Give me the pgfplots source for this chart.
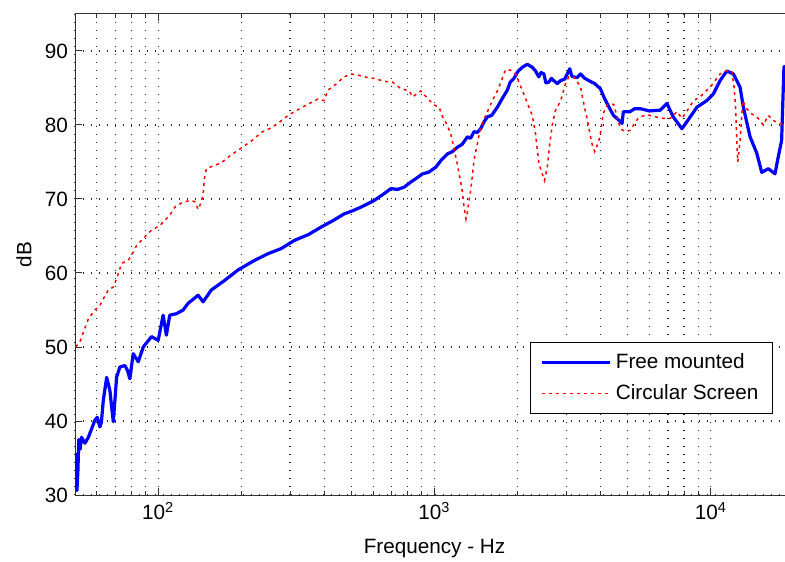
\documentclass[border=0pt]{standalone}
\usepackage{fontspec}
\setmainfont{Liberation Sans}
\usepackage{pgfplots}
\pgfplotsset{compat=1.18}
\newcommand{\fs}{\fontsize{10.35}{12.4}\selectfont}
\begin{document}
\begin{tikzpicture}
\begin{semilogxaxis}[
  scale only axis, width=359.5pt, height=240.5pt,
  xmin=50, xmax=20000, ymin=30, ymax=95,
  xtick={100,1000,10000},
  xticklabels={10\textsuperscript{2},10\textsuperscript{3},10\textsuperscript{4}},
  minor xtick={50,60,70,80,90,200,300,400,500,600,700,800,900,2000,3000,4000,5000,6000,7000,8000,9000,20000},
  ytick={30,40,...,90},
  /pgf/number format/assume math mode=true,
  xmajorgrids=true, xminorgrids=true, ymajorgrids=true,
  grid style={black!85, line width=0.6pt, dash pattern=on 0.6pt off 3.4pt},
  tick align=inside,
  major tick length=3.5pt, minor tick length=2pt,
  axis line style={black!80, line width=0.5pt},
  every tick/.style={black!80, line width=0.5pt},
  tick label style={font=\fs},
  label style={font=\fs},
  xlabel={Frequency - Hz},
  ylabel={dB},
  xlabel style={at={(axis description cs:0.5,-0.112)}, anchor=center},
  ylabel style={at={(axis description cs:-0.0709,0.5)}, anchor=center, rotate=0},
  legend style={at={(axis description cs:0.9708,0.168)}, anchor=south east,
    draw=black, line width=0.5pt, font=\fs, row sep=2.5pt, inner xsep=5pt, inner ysep=3.5pt,
    cells={anchor=west}},
  legend image code/.code={\draw[#1] (0pt,0pt) -- (34pt,0pt);},
]
\addplot[blue, line width=1.6pt, line join=round] coordinates {
(50.2,31.0)(50.5,35.5)(50.8,30.6)(51.2,33)(51.6,37.5)(52.2,36.2)(52.8,37.8)(54.3,37.0)(55.9,37.8)(57.5,39)(59.0,40.1)(60.2,40.5)(61.5,39.2)(62.3,39.8)(63.3,42.8)(65.1,45.9)(66.9,44.1)(67.8,42)(68.8,39.9)(69.8,43)(70.7,45.9)(72.7,47.3)(75.8,47.5)(77.5,46.8)(79.0,45.7)(81.2,49.1)(84.7,48)(88.3,50)(94.6,51.4)(100,50.9)(104.2,54.3)(107.1,51.6)(110.1,54.3)(116.4,54.5)(123.1,55)(128.3,55.9)(139.5,57)(145.4,56.1)(155.7,57.7)(174,59)(194.4,60.4)(223,61.7)(249.5,62.6)(278.7,63.3)(311,64.4)(350,65.2)(388.6,66.2)(430,67.1)(471.8,68)(505,68.4)(542,68.9)(605,69.8)(650,70.6)(695.5,71.4)(735,71.3)(776.8,71.6)(821,72.3)(860,72.8)(905,73.4)(950,73.6)(1011,74.3)(1060,75.3)(1114,76.1)(1160,76.4)(1211,77)(1260,77.4)(1315,78.4)(1350,78.2)(1390,79.1)(1430,79.0)(1469,79.5)(1510,80.4)(1554,81.1)(1610,81.3)(1688,82.4)(1760,83.6)(1834,84.7)(1880,85.8)(1939,86.3)(2000,87.2)(2078,87.8)(2166,88.2)(2259,87.8)(2320,87.3)(2386,86.5)(2430,87.1)(2487,86.9)(2530,85.7)(2593,85.8)(2650,86.3)(2703,86)(2780,85.6)(2858,86)(2960,86.2)(3087,87.6)(3140,86.6)(3191,86.5)(3280,86.4)(3375,86.9)(3500,86.3)(3615,86)(3800,85.6)(3985,84.9)(4100,83.8)(4213,82.9)(4440,81.3)(4600,80.8)(4772,80.2)(4824,81.8)(5100,81.8)(5300,82.2)(5556,82.2)(6000,81.9)(6561,82)(6938,82.9)(7310,81.1)(7860,79.5)(8423,81.1)(8902,82.4)(9674,83.3)(10220,84.2)(10803,86)(11425,87.3)(12066,86.9)(12760,85.1)(13114,82.4)(13869,78.4)(14662,76.2)(15284,73.6)(16142,74.1)(17070,73.4)(17540,75.7)(18040,77.9)(18390,87.8)(18600,88.0)
};
\addlegendentry{Free mounted}
\addplot[red, line width=0.75pt, dash pattern=on 1.5pt off 2pt] coordinates {
(50.3,50.0)(52.1,50.7)(53.6,52)(55.9,53.8)(59.0,55)(61.5,55.6)(63.3,56.5)(66.0,57.7)(68.8,58.1)(70.7,59.2)(73.7,61.3)(77.9,61.7)(81.2,62.8)(83.5,63.7)(89.5,64.9)(94.6,65.8)(101.3,66.4)(110.1,67.8)(114.8,68.9)(123.1,69.6)(131.9,69.8)(136,69.6)(139.5,68.6)(143.3,69.6)(145.4,70.7)(147.3,73)(149.4,74.1)(169.3,74.9)(181.4,75.8)(205.4,77.2)(220.3,78)(236,79)(252.9,79.5)(271.1,80.2)(290.5,81.1)(311,81.8)(347.9,82.8)(378.1,83.5)(399.4,83.3)(410.9,84.7)(446.5,85.7)(465.5,86.4)(498.6,86.9)(534.4,86.7)(573.1,86.4)(605,86.3)(658,85.9)(705.5,85.8)(755.8,84.9)(809.8,84.6)(833.1,83.8)(892.3,84.6)(943.5,83.6)(996.8,82.7)(1039,82.4)(1069,81.1)(1108,80.1)(1145,78.8)(1177,76.8)(1194,75.7)(1211,74.6)(1227,73.4)(1244,72.3)(1262,70.9)(1279,68.9)(1300,67.3)(1315,68.2)(1333,69.8)(1352,71.2)(1372,73.2)(1390,75.3)(1430,77.5)(1469,79.7)(1532,81.3)(1620,83.3)(1688,84.6)(1760,86.3)(1809,87.5)(1886,87.4)(1966,86.9)(2020,85.8)(2078,84.7)(2136,83.6)(2195,82.4)(2259,81.3)(2321,78.8)(2386,74.8)(2454,73.4)(2501,72.5)(2558,74.3)(2614,77.5)(2667,80)(2741,82)(2858,83.2)(2979,85.6)(3062,86.5)(3191,86.5)(3375,85.2)(3422,84)(3517,81.8)(3567,80.9)(3667,78.5)(3719,77.4)(3801,76.4)(3877,77.2)(3962,78.3)(4008,79.5)(4075,81.5)(4213,82.7)(4450,82.8)(4706,79.5)(4905,79.1)(5114,79.3)(5255,80)(5478,81)(5875,81.4)(6295,81.1)(6745,80.9)(7131,80.9)(7541,81.8)(7860,80.9)(8303,82.2)(8654,83.3)(9151,83.8)(9537,84.5)(9943,85.1)(10364,86)(10803,86.9)(11575,87.4)(11908,87.2)(12137,85.1)(12311,82)(12413,77.9)(12516,75)(12760,77.9)(13049,83.3)(13490,82.2)(14060,81.5)(14850,80.9)(15480,80)(16142,81.3)(16830,80.6)(17795,80.2)(18390,80.1)(19000,80.0)
};
\addlegendentry{Circular Screen}
\end{semilogxaxis}
\pgfresetboundingbox
\path[use as bounding box] (-37.5pt,-33pt) rectangle (355pt,247.5pt);
\end{tikzpicture}
\end{document}
